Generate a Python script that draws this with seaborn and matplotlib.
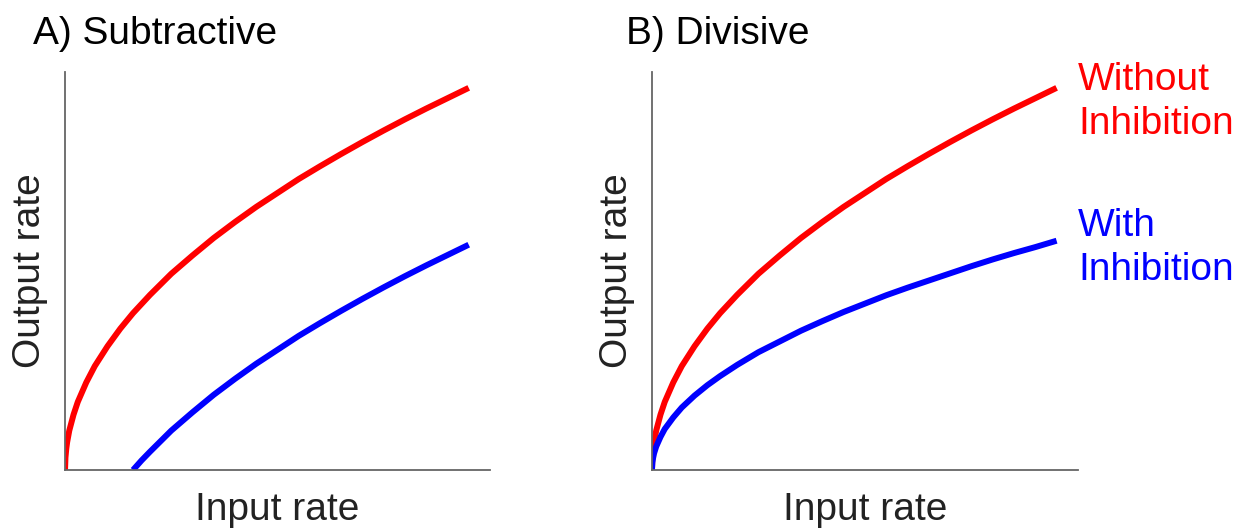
import matplotlib
matplotlib.use('Agg')
import seaborn as sns
import matplotlib.pyplot as plt
import pandas as pd

# values (arbitrary units, axes run 0..10)
inputRate = [0, 0.01, 0.03, 0.05, 0.1, 0.2, 0.3, 0.5, 0.7, 1, 1.3, 1.6, 2, 2.5, 3, 3.5,
	4, 4.5, 5, 5.5, 6, 6.5, 7, 7.5, 8, 8.5, 9, 9.5]
withoutInhibition = [0, 0.31, 0.54, 0.70, 0.99, 1.39, 1.71, 2.20, 2.61, 3.11, 3.55, 3.94, 4.40, 4.93, 5.39, 5.83,
	6.23, 6.61, 6.96, 7.31, 7.63, 7.94, 8.24, 8.53, 8.81, 9.08, 9.34, 9.60]
divWithInhibition = [0, 0.19, 0.32, 0.42, 0.59, 0.83, 1.03, 1.32, 1.57, 1.87, 2.13, 2.36, 2.64, 2.96, 3.23, 3.50,
	3.74, 3.97, 4.18, 4.39, 4.58, 4.76, 4.94, 5.12, 5.29, 5.45, 5.60, 5.76]

subInputRate = [1.6, 1.7, 1.8, 2, 2.5, 3, 3.5, 4, 4.5, 5, 5.5, 6, 6.5, 7, 7.5, 8, 8.5, 9, 9.5]
subWithInhibition = [0, 0.12, 0.24, 0.46, 0.99, 1.45, 1.89, 2.29, 2.67, 3.02, 3.37, 3.69, 4.00, 4.30, 4.59,
	4.87, 5.14, 5.40, 5.66]

panelTitles = ["A) Subtractive", "B) Divisive"]
xLabel = "Input rate"
yLabel = "Output rate"
lineLabels = ["Without\nInhibition", "With\nInhibition"]

sns.set_style("white")
plt.rcParams['font.family'] = ['Liberation Sans', 'DejaVu Sans']

fig = plt.figure(figsize=(12.48, 5.29), dpi=100)
axA = fig.add_axes([0.0521, 0.1115, 0.3405, 0.7525])
axB = fig.add_axes([0.5224, 0.1115, 0.3413, 0.7525])

red = "#ff0000"
blue = "#0000ff"
lw = 4.3
fs = 28

dfWithout = pd.DataFrame({"x": inputRate, "y": withoutInhibition})
dfSub = pd.DataFrame({"x": subInputRate, "y": subWithInhibition})
dfDiv = pd.DataFrame({"x": inputRate, "y": divWithInhibition})

lineKw = dict(linewidth=lw, sort=False, solid_capstyle="butt", solid_joinstyle="round")
sns.lineplot(ax=axA, data=dfWithout, x="x", y="y", color=red, **lineKw)
sns.lineplot(ax=axA, data=dfSub, x="x", y="y", color=blue, **lineKw)
sns.lineplot(ax=axB, data=dfWithout, x="x", y="y", color=red, **lineKw)
sns.lineplot(ax=axB, data=dfDiv, x="x", y="y", color=blue, **lineKw)

titleX = [-0.075, -0.061]
for ax, title, tx in zip([axA, axB], panelTitles, titleX):
	ax.set_xlim(0, 10)
	ax.set_ylim(0, 10)
	ax.set_xticks([])
	ax.set_yticks([])
	sns.despine(ax=ax)
	for side in ["left", "bottom"]:
		ax.spines[side].set_color("#666666")
		ax.spines[side].set_linewidth(1.3)
	ax.set_xlabel(xLabel, fontsize=fs, color="#222222", labelpad=16)
	ax.set_ylabel(yLabel, fontsize=fs, color="#222222", labelpad=12)
	ax.set_title(title, fontsize=fs, loc="left", x=tx, y=1.07, pad=0, color="black")

axB.text(10.0, 9.25, lineLabels[0], color=red, fontsize=fs, va="center", ha="left", linespacing=1.3, clip_on=False)
axB.text(10.0, 5.58, lineLabels[1], color=blue, fontsize=fs, va="center", ha="left", linespacing=1.3, clip_on=False)

plt.savefig("out.png", dpi=100)
plt.close("all")
